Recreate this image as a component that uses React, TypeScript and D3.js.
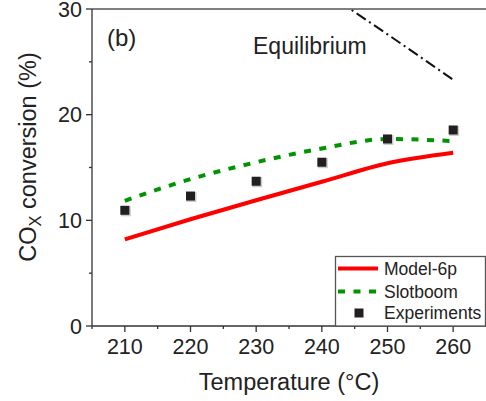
import React from "react";
import * as d3 from "d3";

// temperatures (°C) and conversions (%)
const temps = [210, 220, 230, 240, 250, 260];
const model6p = [8.2, 10.1, 11.9, 13.65, 15.4, 16.4];
const slotboom = [11.85, 13.9, 15.5, 16.8, 17.7, 17.5];
const experiments = [10.95, 12.3, 13.7, 15.5, 17.7, 18.55];
const eqTemps = [240, 250, 260];
const equilibrium = [31.8, 27.6, 23.3];

const xMajor = [210, 220, 230, 240, 250, 260];
const xMinor = [205, 215, 225, 235, 245, 255];
const yMajor = [0, 10, 20, 30];
const yMinor = [5, 15, 25];

const W = 486;
const H = 401;
const margin = { top: 9, right: 0, bottom: 75, left: 92 };
const font = "'Liberation Sans', Arial, sans-serif";

export default function App() {
  const x = d3.scaleLinear().domain([205, 265]).range([margin.left, W - margin.right]);
  const y = d3.scaleLinear().domain([0, 30]).range([H - margin.bottom, margin.top]);
  const x0 = margin.left;
  const y0 = H - margin.bottom;

  const line = d3
    .line<[number, number]>()
    .x((d) => x(d[0]))
    .y((d) => y(d[1]))
    .curve(d3.curveMonotoneX);

  const pts = (vals: number[], ts = temps) => ts.map((t, i) => [t, vals[i]] as [number, number]);
  const axisColor = "#333";

  return (
    <div style={{ position: "fixed", left: 0, top: 0 }}>
      <svg width={W} height={H} style={{ display: "block", fontFamily: font }}>
        <defs>
          <clipPath id="plot">
            <rect x={x0} y={margin.top} width={W - x0} height={y0 - margin.top} />
          </clipPath>
        </defs>
        <rect width={W} height={H} fill="#fff" />

        {/* equilibrium */}
        <path
          d={line(pts(equilibrium, eqTemps)) || ""}
          fill="none"
          stroke="#111"
          strokeWidth={2}
          strokeDasharray="11,4,2,4"
          clipPath="url(#plot)"
        />
        <text x={253} y={53.5} fontSize={23} fill="#222">Equilibrium</text>
        <text x={107} y={46} fontSize={24} fill="#222">(b)</text>

        {/* model lines */}
        <path d={line(pts(model6p)) || ""} fill="none" stroke="#ff0000" strokeWidth={4} />
        <path
          d={line(pts(slotboom)) || ""}
          fill="none"
          stroke="#009400"
          strokeWidth={4}
          strokeDasharray="7,8.5"
        />
        {temps.map((t, i) => (
          <g key={t}>
            <rect x={x(t) - 4} y={y(experiments[i]) - 4} width={10} height={10} fill="#ccc" />
            <rect x={x(t) - 4.5} y={y(experiments[i]) - 4.5} width={9} height={9} fill="#231f20" />
          </g>
        ))}

        {/* axes frame */}
        <line x1={x0} x2={W} y1={margin.top} y2={margin.top} stroke="#555" strokeWidth={1.3} />
        <line x1={x0} x2={x0} y1={margin.top} y2={y0} stroke={axisColor} strokeWidth={1.3} />
        <line x1={x0} x2={W} y1={y0} y2={y0} stroke={axisColor} strokeWidth={1.3} />

        {yMajor.map((v) => (
          <g key={v}>
            <line x1={x0 - 6} x2={x0} y1={y(v)} y2={y(v)} stroke={axisColor} strokeWidth={1.3} />
            <text x={82} y={y(v)} dy="0.36em" textAnchor="end" fontSize={21.5} fill="#222">
              {v}
            </text>
          </g>
        ))}
        {yMinor.map((v) => (
          <line key={v} x1={x0 - 3} x2={x0} y1={y(v)} y2={y(v)} stroke={axisColor} strokeWidth={1.3} />
        ))}
        {xMajor.map((v) => (
          <g key={v}>
            <line x1={x(v)} x2={x(v)} y1={y0} y2={y0 + 6} stroke={axisColor} strokeWidth={1.3} />
            <text x={x(v)} y={353.5} textAnchor="middle" fontSize={21.5} fill="#222">
              {v}
            </text>
          </g>
        ))}
        {xMinor.map((v) => (
          <line key={v} x1={x(v)} x2={x(v)} y1={y0} y2={y0 + 3} stroke={axisColor} strokeWidth={1.3} />
        ))}

        {/* axis titles */}
        <text x={(x0 + W) / 2} y={389.5} textAnchor="middle" fontSize={23.5} fill="#222">
          Temperature (°C)
        </text>
        <text
          transform={`translate(36,157) rotate(-90)`}
          textAnchor="middle"
          fontSize={23.5}
          fill="#222"
        >
          CO
          <tspan fontSize={16.5} dy={5}>X</tspan>
          <tspan dy={-5}> conversion (%)</tspan>
        </text>

        {/* legend */}
        <rect x={335.5} y={256.5} width={150} height={y0 - 256.5} fill="#fff" stroke="#555" strokeWidth={1.3} />
        <line x1={338} x2={378} y1={268.5} y2={268.5} stroke="#ff0000" strokeWidth={4} />
        <line x1={338} x2={378} y1={291.5} y2={291.5} stroke="#009400" strokeWidth={4} strokeDasharray="7,8.5" />
        <rect x={354.5} y={308.5} width={9} height={9} fill="#231f20" />
        <text x={384} y={268.5} dy="0.36em" fontSize={17.5} fill="#222">Model-6p</text>
        <text x={384} y={291.5} dy="0.36em" fontSize={17.5} fill="#222">Slotboom</text>
        <text x={384} y={313} dy="0.36em" fontSize={17.5} fill="#222">Experiments</text>
      </svg>
    </div>
  );
}
